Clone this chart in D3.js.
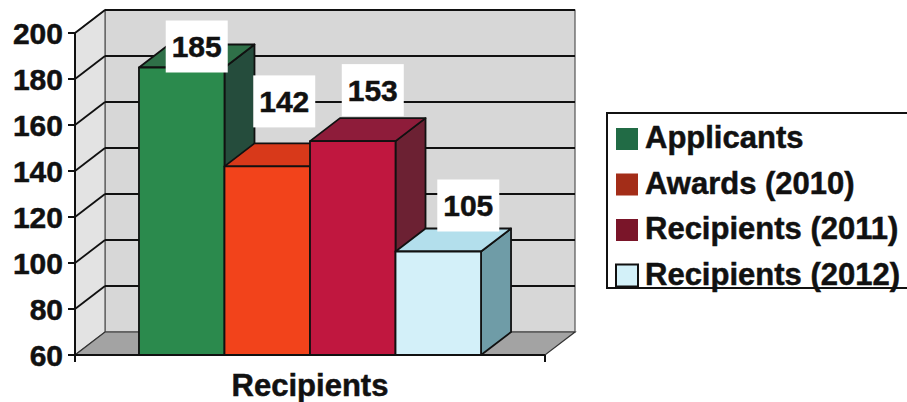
<!DOCTYPE html>
<html>
<head>
<meta charset="utf-8">
<script src="https://cdn.jsdelivr.net/npm/d3@7"></script>
<style>
  html, body { margin: 0; padding: 0; background: #fff; }
  svg { display: block; }
  text { font-family: "Liberation Sans", Arial, Helvetica, sans-serif; font-weight: bold; fill: #111;
         stroke: #111; stroke-width: 0.5px; }
</style>
</head>
<body>
<svg id="chart" width="907" height="402"></svg>
<script>
// ---- data ----
const categories = ["Recipients"];
const seriesNames = ["Applicants", "Awards (2010)", "Recipients (2011)", "Recipients (2012)"];
const seriesValues = [185, 142, 153, 105];
const yTickValues = [60, 80, 100, 120, 140, 160, 180, 200];

// ---- styling ----
const faceColors = [
  { front: "#2b8a4d", top: "#2f7048", side: "#254c3c" },
  { front: "#f2431b", top: "#d8391a", side: "#a52c16" },
  { front: "#c0173f", top: "#8e1c3a", side: "#6c2133" },
  { front: "#d3f0f9", top: "#b3dfec", side: "#6f9ca7" }
];
const swatchColors = ["#216b45", "#a32d18", "#7a1529", "#d3f1f9"];
// per-label nudges (dx, dy) relative to the centre of each bar's top face
const labelShift = [[0, 12], [2, -32], [5, -18], [15, -13]];

const svg = d3.select("#chart");
const depthX = 30, depthY = -23;
const plot = { left: 75, right: 545, top: 33, bottom: 355 };

const y = d3.scaleLinear().domain([60, 200]).range([plot.bottom, plot.top]);
const x0 = d3.scaleBand().domain(categories).range([plot.left, plot.right])
  .paddingInner(0).paddingOuter(0.187);
const x1 = d3.scaleBand().domain(seriesNames).range([0, x0.bandwidth()]).padding(0);

const pts = a => a.map(p => p.join(",")).join(" ");

// ---- walls and floor ----
const g = svg.append("g");
const yTop = y(200), yBot = y(60);
g.append("polygon") // back wall
  .attr("points", pts([[plot.left + depthX, yTop + depthY], [plot.right + depthX, yTop + depthY],
                       [plot.right + depthX, yBot + depthY], [plot.left + depthX, yBot + depthY]]))
  .attr("fill", "#d7d7d7").attr("stroke", "#555").attr("stroke-width", 1.2);
g.append("polygon") // left wall
  .attr("points", pts([[plot.left, yBot], [plot.left, yTop], [plot.left + depthX, yTop + depthY],
                       [plot.left + depthX, yBot + depthY]]))
  .attr("fill", "#e3e3e3").attr("stroke", "#555").attr("stroke-width", 1.2);
g.append("polygon") // floor
  .attr("points", pts([[plot.left, yBot], [plot.right, yBot], [plot.right + depthX, yBot + depthY],
                       [plot.left + depthX, yBot + depthY]]))
  .attr("fill", "#a3a3a3").attr("stroke", "#333").attr("stroke-width", 1.2);

// gridlines on the back and left walls
const grid = yTickValues.filter(v => v > 60);
g.selectAll(".gback").data(grid).join("line")
  .attr("x1", plot.left + depthX).attr("x2", plot.right + depthX)
  .attr("y1", d => y(d) + depthY).attr("y2", d => y(d) + depthY)
  .attr("stroke", "#111").attr("stroke-width", 1.8);
g.selectAll(".gleft").data(grid).join("line")
  .attr("x1", plot.left).attr("x2", plot.left + depthX)
  .attr("y1", d => y(d)).attr("y2", d => y(d) + depthY)
  .attr("stroke", "#111").attr("stroke-width", 1.8);

// ---- 3D bars ----
const bars = svg.append("g");
const barData = seriesNames.map((s, i) => ({ s, v: seriesValues[i], i }));
barData.forEach(d => {
  const xa = x0(categories[0]) + x1(d.s);
  const xb = xa + x1.bandwidth();
  const yt = y(d.v);
  const c = faceColors[d.i];
  const bg = bars.append("g").attr("stroke", "#111").attr("stroke-width", 1.8).attr("stroke-linejoin", "round");
  bg.append("polygon").attr("fill", c.side)
    .attr("points", pts([[xb, yt], [xb + depthX, yt + depthY], [xb + depthX, yBot + depthY], [xb, yBot]]));
  bg.append("polygon").attr("fill", c.top)
    .attr("points", pts([[xa, yt], [xa + depthX, yt + depthY], [xb + depthX, yt + depthY], [xb, yt]]));
  bg.append("rect").attr("fill", c.front)
    .attr("x", xa).attr("y", yt).attr("width", xb - xa).attr("height", yBot - yt);
});

// ---- value labels on white boxes ----
const labels = svg.append("g");
barData.forEach(d => {
  const xa = x0(categories[0]) + x1(d.s);
  const cx = xa + x1.bandwidth() / 2 + depthX / 2 + labelShift[d.i][0];
  const cy = y(d.v) + depthY + labelShift[d.i][1] - 10;
  labels.append("rect").attr("x", cx - 31).attr("y", cy - 26).attr("width", 62).attr("height", 52)
    .attr("fill", "#fff");
  labels.append("text").attr("x", cx).attr("y", cy + 10.5).attr("text-anchor", "middle")
    .attr("font-size", 30).text(d.v);
});

// ---- axes ----
const axisG = svg.append("g");
axisG.append("line").attr("x1", plot.left).attr("x2", plot.left).attr("y1", yTop).attr("y2", yBot + 7)
  .attr("stroke", "#111").attr("stroke-width", 2);
axisG.append("line").attr("x1", plot.left).attr("x2", plot.right).attr("y1", yBot).attr("y2", yBot)
  .attr("stroke", "#111").attr("stroke-width", 2);
axisG.append("line").attr("x1", plot.right).attr("x2", plot.right).attr("y1", yBot).attr("y2", yBot + 7)
  .attr("stroke", "#111").attr("stroke-width", 2);
axisG.selectAll(".tk").data(yTickValues).join("line")
  .attr("x1", plot.left - 7).attr("x2", plot.left)
  .attr("y1", d => y(d)).attr("y2", d => y(d))
  .attr("stroke", "#111").attr("stroke-width", 2);
axisG.selectAll(".tl").data(yTickValues).join("text")
  .attr("x", plot.left - 12).attr("y", d => y(d) + 10.5)
  .attr("text-anchor", "end").attr("font-size", 30).text(d => d);

svg.append("text").attr("x", (plot.left + plot.right) / 2).attr("y", 396)
  .attr("text-anchor", "middle").attr("font-size", 31).text(categories[0]);

// ---- legend ----
const lg = svg.append("g").attr("transform", "translate(607,113)");
lg.append("rect").attr("x", 0).attr("y", 0).attr("width", 310).attr("height", 175)
  .attr("fill", "#fff").attr("stroke", "#111").attr("stroke-width", 2);
const items = lg.selectAll(".li").data(seriesNames).join("g")
  .attr("transform", (d, i) => `translate(9,${15 + i * 45.5})`);
items.append("rect").attr("width", 22).attr("height", 22)
  .attr("fill", (d, i) => swatchColors[i])
  .attr("stroke", (d, i) => i === 3 ? "#111" : "none").attr("stroke-width", 2);
items.append("text").attr("x", 29).attr("y", 20).attr("font-size", 31).text(d => d);
</script>
</body>
</html>
